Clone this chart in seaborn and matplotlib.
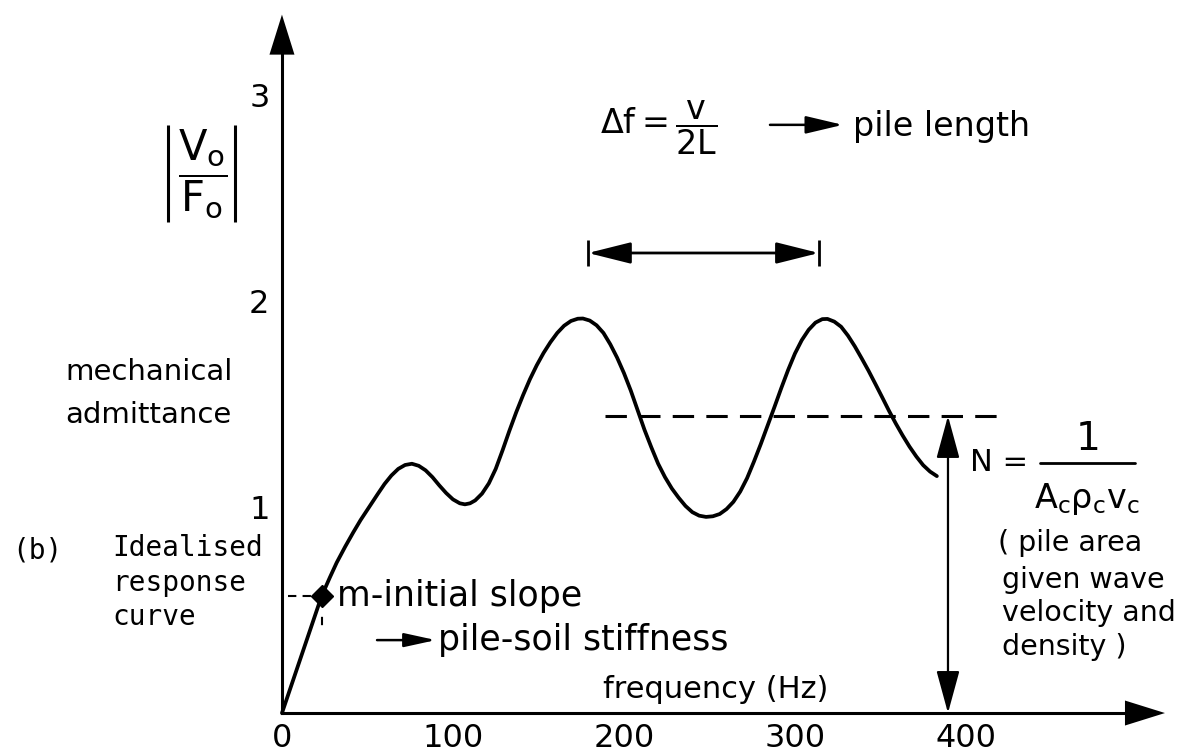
import matplotlib
matplotlib.use("Agg")
import matplotlib.pyplot as plt
import seaborn as sns

# idealised mechanical admittance curve
freq = [0, 23.2, 28, 32, 37, 41.7, 46, 51, 56, 60, 64, 68, 72, 76, 80, 84, 88,
        92, 96, 100, 104, 107, 110, 113, 117, 121, 125, 129, 133, 137, 141,
        145, 149, 153, 157, 161, 165, 169, 173, 176, 180, 184, 188, 192, 196,
        200, 204, 208, 212, 216, 220, 224, 228, 232, 236, 240, 244, 248, 252,
        256, 260, 264, 268, 272, 276, 280, 284, 288, 292, 296, 300, 304, 308,
        312, 316, 319, 323, 327, 331, 335, 339, 343, 347, 351, 355, 359, 363,
        367, 371, 375, 379, 383]
admittance = [0, 0.568, 0.658, 0.73, 0.808, 0.877, 0.937, 1.0, 1.063, 1.112,
              1.153, 1.185, 1.204, 1.210, 1.200, 1.178, 1.145, 1.105, 1.068,
              1.037, 1.018, 1.013, 1.018, 1.032, 1.065, 1.115, 1.185, 1.275,
              1.37, 1.46, 1.543, 1.62, 1.688, 1.748, 1.80, 1.845, 1.88, 1.903,
              1.914, 1.915, 1.905, 1.882, 1.845, 1.79, 1.725, 1.65, 1.565,
              1.47, 1.375, 1.29, 1.21, 1.145, 1.09, 1.045, 1.005, 0.975,
              0.958, 0.952, 0.955, 0.966, 0.99, 1.025, 1.075, 1.14, 1.22,
              1.305, 1.395, 1.485, 1.577, 1.665, 1.745, 1.81, 1.86, 1.895,
              1.912, 1.913, 1.9, 1.875, 1.832, 1.78, 1.722, 1.662, 1.598,
              1.533, 1.467, 1.405, 1.347, 1.293, 1.245, 1.203, 1.172, 1.15]

x_ticks = [0, 100, 200, 300, 400]
y_ticks = [1, 2, 3]

slope_point = (23.2, 0.568)       # m - initial slope
mean_level = 1.442                # N level
peak_left, peak_right = 179, 314  # delta f span

sns.set_theme(style="white")
plt.rcParams["font.family"] = ["DejaVu Sans"]
plt.rcParams["mathtext.fontset"] = "dejavusans"
plt.rcParams["mathtext.default"] = "regular"
plt.rcParams["text.color"] = "black"
plt.rcParams["xtick.color"] = "black"
plt.rcParams["ytick.color"] = "black"

fig = plt.figure(figsize=(11.99, 7.53), dpi=100)
ax = fig.add_axes([0, 0, 1, 1])
ax.set_xlim(-164.9, 536.3)
ax.set_ylim(-0.194, 3.461)
ax.patch.set_visible(False)

# main curve
sns.lineplot(x=freq, y=admittance, ax=ax, color="black", lw=2.7, sort=False)
ax.lines[-1].set_solid_joinstyle("round")

# axes drawn as arrows through the origin
for s in ["top", "right"]:
    ax.spines[s].set_visible(False)
ax.spines["left"].set_position(("data", 0))
ax.spines["bottom"].set_position(("data", 0))
ax.spines["left"].set_bounds(0, 3.3)
ax.spines["bottom"].set_bounds(0, 505)
for s in ["left", "bottom"]:
    ax.spines[s].set_linewidth(2.2)
    ax.spines[s].set_color("black")

ax.set_xticks(x_ticks)
ax.set_xticklabels([str(t) for t in x_ticks])
ax.set_yticks(y_ticks)
ax.set_yticklabels([str(t) for t in y_ticks])
ax.tick_params(direction="inout", length=12, width=2, colors="black",
               labelsize=23, pad=1)
ax.tick_params(axis="y", pad=3)

head = dict(arrowstyle="-|>,head_length=2.4,head_width=0.75", color="black",
            lw=0, shrinkA=0, shrinkB=0)
ax.annotate("", xy=(0, 3.39), xytext=(0, 3.2), arrowprops=head)
ax.annotate("", xy=(516.4, 0), xytext=(495, 0), arrowprops=head)

# initial slope marker
ax.plot([3.5, slope_point[0]], [slope_point[1]] * 2, color="black", lw=1.5,
        ls=(0, (4, 3)))
ax.plot([slope_point[0]] * 2, [slope_point[1], 0.37], color="black", lw=1.5,
        ls=(0, (4, 6)))
ax.plot(*slope_point, marker="D", ms=11, color="black")
ax.text(32.2, slope_point[1], "m-initial slope", fontsize=25, va="center",
        ha="left")
ax.annotate("", xy=(90, 0.354), xytext=(55.6, 0.354),
            arrowprops=dict(arrowstyle="-|>,head_length=1.6,head_width=0.35",
                            color="black", lw=1.8, shrinkA=0, shrinkB=0))
ax.text(91, 0.354, "pile-soil stiffness", fontsize=25, va="center", ha="left")

# mean level and N
ax.plot([189, 418], [mean_level] * 2, color="black", lw=2.2, ls=(0, (7, 4)))
ax.annotate("", xy=(389.5, mean_level), xytext=(389.5, 0),
            arrowprops=dict(arrowstyle="<|-|>,head_length=2.2,head_width=0.6",
                            color="black", lw=1.6, shrinkA=0, shrinkB=0))
ax.text(402.5, 1.214, "N =", fontsize=22, va="center", ha="left")
ax.text(471.5, 1.33, "1", fontsize=28, va="center", ha="center")
ax.plot([443.3, 498.8], [1.214, 1.214], color="black", lw=2)
ax.text(470.5, 1.04, r"$A_c\rho_c v_c$", fontsize=24, va="center",
        ha="center")
n_lines = ["( pile area", "given wave", "velocity and", "density )"]
n_y = [0.825, 0.646, 0.485, 0.320]
for txt, yy in zip(n_lines, n_y):
    ax.text(418.7 if txt.startswith("(") else 421, yy, txt, fontsize=20.5,
            va="center", ha="left")

# delta f span
ax.annotate("", xy=(peak_left, 2.233), xytext=(peak_right, 2.233),
            arrowprops=dict(arrowstyle="<|-|>,head_length=2.2,head_width=0.55",
                            color="black", lw=2, shrinkA=0, shrinkB=0))
ax.vlines([peak_left, peak_right], 2.233 - 0.065, 2.233 + 0.065, color="black",
          lw=2)
ax.text(186, 2.84, r"$\Delta f = \dfrac{v}{2L}$", fontsize=24, va="center",
        ha="left")
ax.annotate("", xy=(328, 2.855), xytext=(285.4, 2.855),
            arrowprops=dict(arrowstyle="-|>,head_length=1.9,head_width=0.45",
                            color="black", lw=1.8, shrinkA=0, shrinkB=0))
ax.text(334, 2.80, "pile length", fontsize=24, va="baseline", ha="left")

# |V0/F0| label
ax.text(-46.5, 2.62, r"$\dfrac{V_o}{F_o}$", fontsize=30, va="center",
        ha="center")
ax.vlines([-66.7, -27.5], 2.383, 2.854, color="black", lw=2.2)
ax.text(-126.9, 1.655, "mechanical", fontsize=21, va="center", ha="left")
ax.text(-126.9, 1.445, "admittance", fontsize=21, va="center", ha="left")
ax.text(187.7, 0.112, "frequency (Hz)", fontsize=22, va="center", ha="left")

mono = ["DejaVu Sans Mono"]
ax.text(-157.9, 0.791, "(b)", fontsize=20, family=mono, va="center", ha="left")
for txt, yy in zip(["Idealised", "response", "curve"], [0.801, 0.631, 0.466]):
    ax.text(-99.4, yy, txt, fontsize=20, family=mono, va="center", ha="left")

fig.savefig("out.png", dpi=100)
